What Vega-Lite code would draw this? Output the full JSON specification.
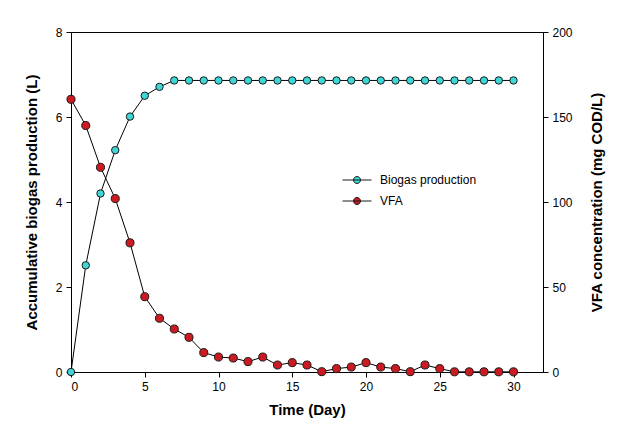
{
  "$schema": "https://vega.github.io/schema/vega-lite/v6.json",
  "autosize": {"type": "none"},
  "width": 472,
  "height": 340,
  "padding": {"left": 71, "top": 32, "right": 88, "bottom": 68},
  "background": "white",
  "config": {
    "font": "Liberation Sans",
    "view": {"stroke": "black", "strokeWidth": 1},
    "axis": {
      "grid": false,
      "domainColor": "black",
      "tickColor": "black",
      "labelColor": "black",
      "titleColor": "black",
      "labelFont": "Liberation Sans",
      "titleFont": "Liberation Sans",
      "labelFontSize": 12,
      "titleFontSize": 15,
      "titleFontWeight": "bold",
      "tickSize": 5,
      "labelPadding": 4
    },
    "legend": {
      "labelFont": "Liberation Sans",
      "labelFontSize": 12,
      "labelColor": "black"
    }
  },
  "data": {
    "values": [
      {"day": 0, "biogas": 0, "vfa": 160.4},
      {"day": 1, "biogas": 2.51, "vfa": 145},
      {"day": 2, "biogas": 4.2, "vfa": 120.4},
      {"day": 3, "biogas": 5.22, "vfa": 102},
      {"day": 4, "biogas": 6.01, "vfa": 76},
      {"day": 5, "biogas": 6.5, "vfa": 44.3},
      {"day": 6, "biogas": 6.71, "vfa": 31.6},
      {"day": 7, "biogas": 6.86, "vfa": 25.3},
      {"day": 8, "biogas": 6.86, "vfa": 20.4},
      {"day": 9, "biogas": 6.86, "vfa": 11.4},
      {"day": 10, "biogas": 6.86, "vfa": 8.8},
      {"day": 11, "biogas": 6.86, "vfa": 8.2},
      {"day": 12, "biogas": 6.86, "vfa": 6.1},
      {"day": 13, "biogas": 6.86, "vfa": 8.8},
      {"day": 14, "biogas": 6.86, "vfa": 4.1},
      {"day": 15, "biogas": 6.86, "vfa": 5.5},
      {"day": 16, "biogas": 6.86, "vfa": 4.1},
      {"day": 17, "biogas": 6.86, "vfa": 0.2},
      {"day": 18, "biogas": 6.86, "vfa": 2},
      {"day": 19, "biogas": 6.86, "vfa": 2.9},
      {"day": 20, "biogas": 6.86, "vfa": 5.5},
      {"day": 21, "biogas": 6.86, "vfa": 2.9},
      {"day": 22, "biogas": 6.86, "vfa": 2},
      {"day": 23, "biogas": 6.86, "vfa": 0.2},
      {"day": 24, "biogas": 6.86, "vfa": 4.1},
      {"day": 25, "biogas": 6.86, "vfa": 2},
      {"day": 26, "biogas": 6.86, "vfa": 0.1},
      {"day": 27, "biogas": 6.86, "vfa": 0.1},
      {"day": 28, "biogas": 6.86, "vfa": 0.1},
      {"day": 29, "biogas": 6.86, "vfa": 0.1},
      {"day": 30, "biogas": 6.86, "vfa": 0.1}
    ]
  },
  "encoding": {
    "x": {
      "field": "day", "type": "quantitative",
      "scale": {"domain": [0, 32], "nice": false, "zero": true},
      "axis": {"values": [0, 5, 10, 15, 20, 25, 30], "title": "Time (Day)", "titlePadding": 10}
    }
  },
  "layer": [
    {
      "layer": [
        {
          "mark": {"type": "line", "color": "black", "strokeWidth": 1},
          "encoding": {
            "y": {"field": "biogas", "type": "quantitative",
                  "scale": {"domain": [0, 8], "nice": false},
                  "axis": {"values": [0, 2, 4, 6, 8], "title": "Accumulative biogas production (L)", "orient": "left", "titlePadding": 16}}
          }
        },
        {
          "mark": {"type": "point", "filled": true, "size": 55, "stroke": "#1a1a1a", "strokeWidth": 1, "opacity": 1},
          "encoding": {
            "y": {"field": "biogas", "type": "quantitative"},
            "fill": {"datum": "Biogas production", "type": "nominal",
                     "scale": {"domain": ["Biogas production", "VFA"], "range": ["#3fd6d6", "#cc1a22"]},
                     "legend": {
                       "title": null, "orient": "none", "legendX": 271, "legendY": 133,
                       "symbolType": "M-1,0L1,0M-0.24,0A0.24,0.24 0 1,1 0.24,0A0.24,0.24 0 1,1 -0.24,0Z",
                       "symbolSize": 841, "symbolStrokeColor": "black", "symbolStrokeWidth": 1,
                       "symbolOpacity": 1, "labelOffset": 8, "rowPadding": -8, "padding": 0
                     }}
          }
        }
      ]
    },
    {
      "layer": [
        {
          "mark": {"type": "line", "color": "black", "strokeWidth": 1},
          "encoding": {
            "y": {"field": "vfa", "type": "quantitative",
                  "scale": {"domain": [0, 200], "nice": false},
                  "axis": {"values": [0, 50, 100, 150, 200], "title": "VFA concentration (mg COD/L)", "orient": "right", "titleAngle": 270, "titlePadding": 32}}
          }
        },
        {
          "mark": {"type": "point", "filled": true, "size": 65, "stroke": "#1a1a1a", "strokeWidth": 1, "opacity": 1},
          "encoding": {
            "y": {"field": "vfa", "type": "quantitative"},
            "fill": {"datum": "VFA", "type": "nominal"}
          }
        }
      ]
    }
  ],
  "resolve": {"scale": {"y": "independent"}}
}
